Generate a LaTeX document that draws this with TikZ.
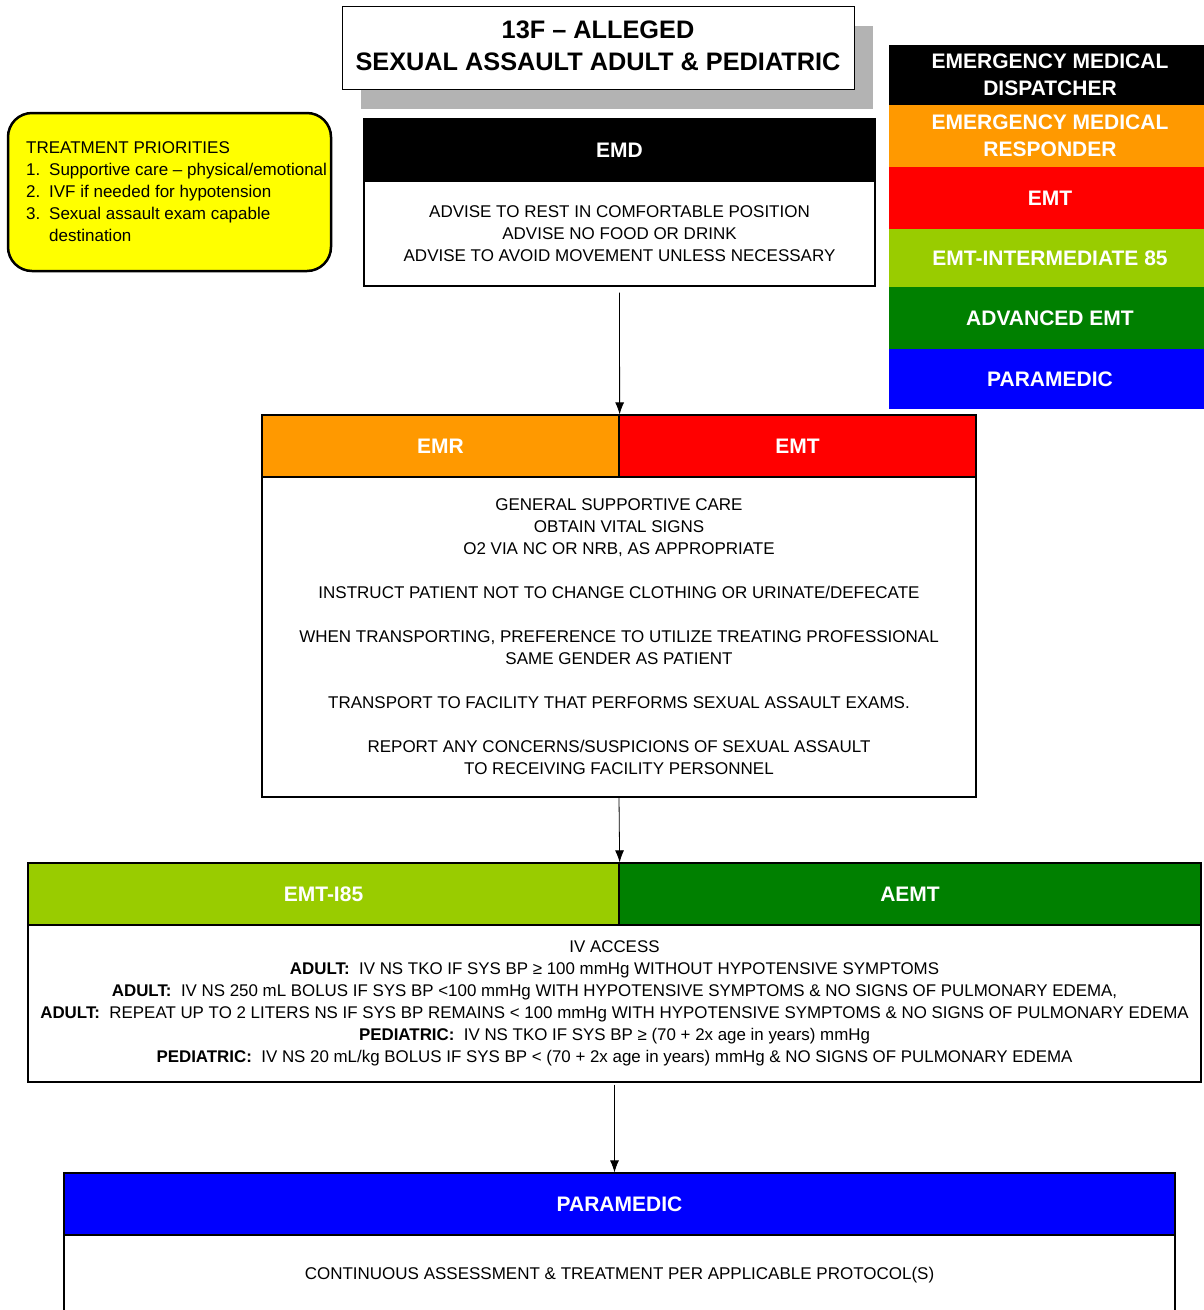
\documentclass[tikz,border=0pt]{standalone}
\usepackage{fontspec}
\setmainfont{Liberation Sans}
\usetikzlibrary{arrows.meta}
\definecolor{emrorange}{HTML}{FF9900}
\definecolor{emtred}{HTML}{FF0000}
\definecolor{ilime}{HTML}{99CC00}
\definecolor{agreen}{HTML}{008000}
\definecolor{pblue}{HTML}{0000FF}
\definecolor{shadowgray}{HTML}{B3B3B3}
\definecolor{prioyellow}{HTML}{FFFF00}
\tikzset{
  hdr/.style={draw=black, line width=1.3pt, text=white, inner sep=0pt,
    font=\fontsize{21}{25}\selectfont\bfseries, minimum height=62pt},
  bodybox/.style={draw=black, line width=1.2pt, fill=white, align=center, inner sep=0pt,
    font=\fontsize{17}{22}\selectfont},
  legendrow/.style={inner sep=0pt, text=white, align=center, minimum width=322pt,
    font=\fontsize{21}{27}\selectfont\bfseries},
  arr/.style={-{Latex[length=12pt,width=9pt]}, line width=0.8pt}
}
\begin{document}
\begin{tikzpicture}[x=1pt,y=-1pt]
\useasboundingbox (0,0) rectangle (1203,1310);

% title
\fill[shadowgray] (361,26) rectangle (873,109);
\node[draw=black, line width=1pt, fill=white, minimum width=512pt, minimum height=83pt,
  inner sep=0pt] (title) at (598,47.5) {};
\node[inner sep=0pt, align=center, font=\fontsize{25.3}{32}\selectfont\bfseries]
  (titletext) at (598,46) {13F – ALLEGED\\SEXUAL ASSAULT ADULT \& PEDIATRIC};

% treatment priorities
\draw[fill=prioyellow, line width=2.5pt, rounded corners=24pt] (8,113) rectangle (331,271);
\node[anchor=north west, inner sep=0pt, align=left, font=\fontsize{17}{22}\selectfont]
  (prio) at (26,141) {TREATMENT PRIORITIES\\
  \makebox[23pt][l]{1.}Supportive care – physical/emotional\\
  \makebox[23pt][l]{2.}IVF if needed for hypotension\\
  \makebox[23pt][l]{3.}Sexual assault exam capable\\
  \hspace*{23pt}destination};

% legend
\node[legendrow, fill=black, minimum height=60pt] (lgemd) at (1050,75)
  {EMERGENCY MEDICAL\\DISPATCHER};
\node[legendrow, fill=emrorange, minimum height=62pt] (lgemr) at (1050,136)
  {EMERGENCY MEDICAL\\RESPONDER};
\node[legendrow, fill=emtred, minimum height=62pt] (lgemt) at (1050,198) {EMT};
\node[legendrow, fill=ilime, minimum height=58pt] (lgi85) at (1050,258) {EMT-INTERMEDIATE 85};
\node[legendrow, fill=agreen, minimum height=62pt] (lgaemt) at (1050,318) {ADVANCED EMT};
\node[legendrow, fill=pblue, minimum height=60pt] (lgpara) at (1050,379) {PARAMEDIC};

% EMD
\node[bodybox, minimum width=511pt, minimum height=105pt] (emdbody) at (619.5,233.5)
  {ADVISE TO REST IN COMFORTABLE POSITION\\ADVISE NO FOOD OR DRINK\\ADVISE TO AVOID MOVEMENT UNLESS NECESSARY};
\node[hdr, fill=black, minimum width=511pt] (emdhdr) at (619.5,150) {EMD};

% EMR / EMT
\node[bodybox, minimum width=714pt, minimum height=320pt] (emrbody) at (619,637)
  {GENERAL SUPPORTIVE CARE\\OBTAIN VITAL SIGNS\\O2 VIA NC OR NRB, AS APPROPRIATE\\[22pt]
   INSTRUCT PATIENT NOT TO CHANGE CLOTHING OR URINATE/DEFECATE\\[22pt]
   WHEN TRANSPORTING, PREFERENCE TO UTILIZE TREATING PROFESSIONAL\\SAME GENDER AS PATIENT\\[22pt]
   TRANSPORT TO FACILITY THAT PERFORMS SEXUAL ASSAULT EXAMS.\\[22pt]
   REPORT ANY CONCERNS/SUSPICIONS OF SEXUAL ASSAULT\\TO RECEIVING FACILITY PERSONNEL};
\node[hdr, fill=emrorange, minimum width=357pt] (emr) at (440.5,446) {EMR};
\node[hdr, fill=emtred, minimum width=357pt] (emt) at (797.5,446) {EMT};

% EMT-I85 / AEMT
\node[bodybox, minimum width=1173pt, minimum height=157pt, font=\fontsize{16.9}{22}\selectfont] (ivbody) at (614.5,1003.5)
  {IV ACCESS\\
   \textbf{ADULT:}\ \ IV NS TKO IF SYS BP ≥ 100 mmHg WITHOUT HYPOTENSIVE SYMPTOMS\\
   \textbf{ADULT:}\ \ IV NS 250 mL BOLUS IF SYS BP <100 mmHg WITH HYPOTENSIVE SYMPTOMS \& NO SIGNS OF PULMONARY EDEMA,\\
   \textbf{ADULT:}\ \ REPEAT UP TO 2 LITERS NS IF SYS BP REMAINS < 100 mmHg WITH HYPOTENSIVE SYMPTOMS \& NO SIGNS OF PULMONARY EDEMA\\
   \textbf{PEDIATRIC:}\ \ IV NS TKO IF SYS BP ≥ (70 + 2x age in years) mmHg\\
   \textbf{PEDIATRIC:}\ \ IV NS 20 mL/kg BOLUS IF SYS BP < (70 + 2x age in years) mmHg \& NO SIGNS OF PULMONARY EDEMA};
\node[hdr, fill=ilime, minimum width=591pt] (emti) at (323.5,894) {EMT-I85};
\node[hdr, fill=agreen, minimum width=582pt] (aemt) at (910,894) {AEMT};

% Paramedic
\node[bodybox, minimum width=1111pt, minimum height=80pt] (parabody) at (619.5,1275)
  {CONTINUOUS ASSESSMENT \& TREATMENT PER APPLICABLE PROTOCOL(S)};
\node[hdr, fill=pblue, minimum width=1111pt] (parahdr) at (619.5,1204) {PARAMEDIC};

% connectors
\draw[arr, shorten <=6pt] (emdbody.south) -- (emr.north east);
\draw[arr] (emrbody.south) -- (emti.north east);
\draw[arr, shorten <=2pt] (ivbody.south) -- (ivbody.south |- parahdr.north);
\end{tikzpicture}
\end{document}
